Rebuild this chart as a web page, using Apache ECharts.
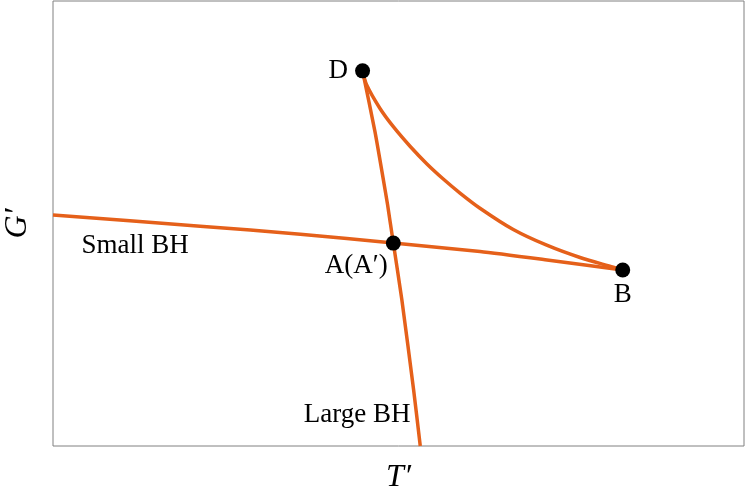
<!DOCTYPE html>
<html><head><meta charset="utf-8">
<script src="https://cdn.jsdelivr.net/npm/echarts@6/dist/echarts.min.js"></script>
<style>html,body{margin:0;padding:0;background:#fff}#c{width:747px;height:491px}</style>
</head><body><div id="c"></div>
<script>
// Data (arbitrary units, x = T', y = G')
const smallBH = [[0,51.9],[21.3,49.4],[35.8,47.6],[49.25,45.6],[61.8,43.7],[71.5,41.8],[82.45,39.55]];
const largeBH = [[44.8,84.3],[46.6,70.6],[47.77,60.2],[48.42,54.2],[49.25,45.6],[50.49,32.8],[52.19,12.6],[53.15,0]];
const curveDB = [[44.8,84.3],[45.4,81.1],[47.3,75.9],[49.25,71.75],[51.7,67.3],[54.08,63.44],[56.48,60.0],[58.9,56.85],[61.79,53.44],[66.61,48.65],[71.45,45.12],[76.27,42.36],[81.09,40.18],[82.45,39.55]];
const keyPoints = [
  {name:'D', value:[44.8,84.3], pos:'left'},
  {name:'A(A′)', value:[49.25,45.6], pos:'bottomLeft'},
  {name:'B', value:[82.45,39.55], pos:'bottom'}
];
const textLabels = [
  {name:'Small BH', value:[11.9,44.9]},
  {name:'Large BH', value:[44.0,7.0]}
];
const xName = 'T′', yName = 'G′';

const orange = '#e5601a';
const serif = '"Liberation Serif","DejaVu Serif",serif';
const chart = echarts.init(document.getElementById('c'));
const lineStyle = {color: orange, width: 3.5};
const posOffsets = {
  left: {position:'left', distance:7},
  bottom: {position:'bottom', distance:4},
  bottomLeft: {position:'bottom', offset:[-37,-2], distance:4}
};
chart.setOption({
  animation:false,
  grid:{left:53,right:3,top:1,bottom:45,outerBoundsMode:'none',containLabel:false,show:true,borderColor:'#808080',borderWidth:1,backgroundColor:'transparent'},
  xAxis:{type:'value',min:0,max:100,axisLine:{show:false},axisTick:{show:false},axisLabel:{show:false},splitLine:{show:false},
    name:xName,nameLocation:'middle',nameGap:16,nameTextStyle:{fontFamily:serif,fontStyle:'italic',fontSize:32,color:'#000'}},
  yAxis:{type:'value',min:0,max:100,axisLine:{show:false},axisTick:{show:false},axisLabel:{show:false},splitLine:{show:false},
    name:yName,nameLocation:'middle',nameGap:19,nameTextStyle:{fontFamily:serif,fontStyle:'italic',fontSize:32,color:'#000'}},
  series:[
    {type:'line',data:smallBH,smooth:0.2,showSymbol:false,lineStyle:lineStyle,z:2},
    {type:'line',data:largeBH,smooth:0.2,showSymbol:false,lineStyle:lineStyle,z:2},
    {type:'line',data:curveDB,smooth:0.3,showSymbol:false,lineStyle:lineStyle,z:2},
    {type:'scatter',symbolSize:15,itemStyle:{color:'#000',opacity:1},z:5,
      data:keyPoints.map(p=>({name:p.name,value:p.value,label:Object.assign({show:true,formatter:'{b}',color:'#000',fontFamily:serif,fontSize:27},posOffsets[p.pos])}))},
    {type:'scatter',symbolSize:0,z:5,itemStyle:{opacity:1},
      data:textLabels.map(p=>({name:p.name,value:p.value})),
      label:{show:true,position:'inside',formatter:'{b}',color:'#000',fontFamily:serif,fontSize:27}}
  ]
});
</script></body></html>
